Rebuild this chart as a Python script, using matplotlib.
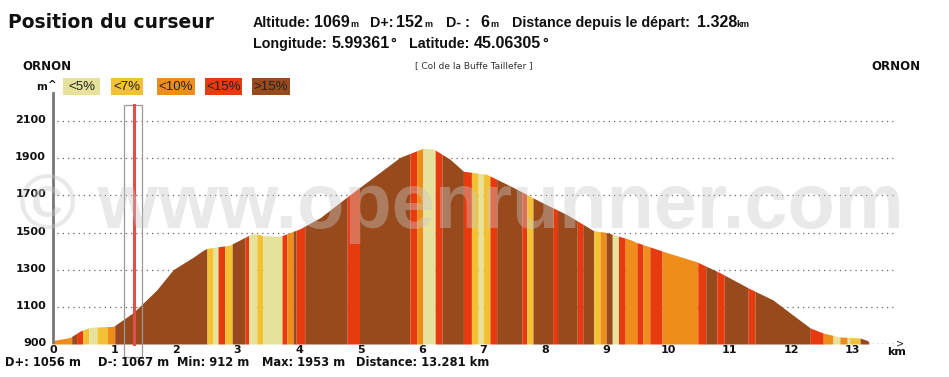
import numpy as np
import matplotlib
matplotlib.use("Agg")
import matplotlib.pyplot as plt
from matplotlib.patches import Rectangle

# ---------------- data ----------------
profile_km = [0, 0.04, 0.29, 0.46, 0.62, 1.0, 1.32, 1.7, 1.97, 2.3, 2.46, 2.52, 2.89, 3.17,
              3.27, 3.43, 3.71, 4.03, 4.36, 4.85, 5.66, 6.03, 6.2, 6.47, 6.69, 7.07, 7.5,
              7.93, 8.37, 8.8, 9.02, 9.4, 9.51, 10.0, 10.48, 10.86, 11.35, 11.72, 12.0,
              12.33, 12.54, 12.81, 13.14, 13.25, 13.281]
profile_elev = [918, 920, 935, 970, 990, 995, 1069, 1190, 1300, 1368, 1405, 1415, 1432, 1480,
                1495, 1484, 1480, 1520, 1580, 1705, 1905, 1953, 1950, 1895, 1830, 1813, 1743,
                1668, 1597, 1511, 1500, 1462, 1446, 1392, 1343, 1284, 1197, 1138, 1068,
                986, 959, 938, 932, 920, 912]

band_edges = [0, 0.32, 0.40, 0.50, 0.60, 0.73, 0.90, 1.02, 2.52, 2.62, 2.70, 2.81, 2.93, 3.14,
              3.20, 3.33, 3.43, 3.74, 3.82, 3.92, 3.97, 4.11, 4.80, 5.00, 5.82, 5.93, 6.03,
              6.23, 6.34, 6.69, 6.82, 6.93, 7.01, 7.12, 7.23, 7.64, 7.72, 7.82, 8.14, 8.22,
              8.54, 8.63, 8.81, 8.91, 9.01, 9.11, 9.21, 9.32, 9.51, 9.61, 9.72, 9.92, 10.50,
              10.63, 10.81, 10.93, 11.32, 11.43, 12.33, 12.54, 12.70, 12.81, 12.93, 12.97,
              13.14, 13.281]
# 0: <5%, 1: <7%, 2: <10%, 3: <15%, 4: >15%
band_class = [2, 4, 3, 1, 0, 1, 2, 4, 1, 0, 3, 1, 4, 3,
              0, 1, 0, 3, 2, 4, 3, 4, 3, 4, 3, 2,
              0, 3, 4, 3, 1, 0, 1, 3, 4, 3, 1, 4, 3,
              4, 3, 4, 1, 2, 4, 0, 3, 2, 3, 2, 3, 2,
              3, 4, 3, 4, 3, 4, 3, 2, 0, 2, 0,
              1, 4]

legend_labels = ["<5%", "<7%", "<10%", "<15%", ">15%"]
class_colors = ["#e6e29c", "#f2c234", "#ef8d1b", "#e83a0f", "#984a1c"]

y_ticks = [900, 1100, 1300, 1500, 1700, 1900, 2100]
x_ticks = list(range(0, 14))

cursor_km = 1.328

# ---------------- figure ----------------
W, H = 949, 377
fig = plt.figure(figsize=(W / 100, H / 100), dpi=100)
fig.patch.set_facecolor("white")

PX0, PY0 = 52, 344          # pixel of (0 km, 900 m)
SX, SY = 61.5, 0.1858       # px per km, px per m
ax = fig.add_axes([PX0 / W, (H - PY0) / H, (W - PX0) / W, PY0 / H])
ax.set_xlim(0, (W - PX0) / SX)
ax.set_ylim(900, 900 + PY0 / SY)
ax.axis("off")

def ftxt(x, y, s, **kw):
    fig.text(x / W, 1 - y / H, s, **kw)

BOLD = dict(fontfamily="DejaVu Sans", fontweight="bold", color="#111111")

# grid lines
for yv in y_ticks[1:]:
    ax.plot([0.08, 13.67], [yv, yv], color="#666666", lw=0.9,
            linestyle=(0, (1, 3.2)), zorder=1)

# profile bands
pk = np.array(profile_km)
pe = np.array(profile_elev)
assert len(band_edges) == len(band_class) + 1
for a, b, c in zip(band_edges[:-1], band_edges[1:], band_class):
    inside = pk[(pk > a) & (pk < b)]
    xs = np.concatenate([[a], inside, [b]])
    ys = np.interp(xs, pk, pe)
    ax.fill_between(xs, 900, ys, color=class_colors[c], lw=0, zorder=2,
                    antialiased=False)

# y axis line
ax.plot([0.02, 0.02], [900, 900 + (PY0 - 93) / SY], color="#777777", lw=2, zorder=3)

# x-axis end dots and arrow
ax.plot([13.33, 13.7], [900, 900], color="#444444", lw=1, linestyle=(0, (1, 2.5)), zorder=3)
ax.text(13.73, 900 + 1 / SY, ">", ha="left", va="center", fontsize=7,
        fontfamily="DejaVu Sans", color="#222222", zorder=3)

# watermark
ftxt(19, 228, "\u00a9 www.openrunner.com", fontfamily="Liberation Sans", fontweight="bold",
     fontsize=55.8, color="#c8c8c8", alpha=0.4, ha="left", va="baseline", zorder=5)

# cursor
ax.add_patch(Rectangle(((124 - PX0) / SX, 900 - 13 / SY), 18 / SX, (357 - 105) / SY,
                       fill=False, edgecolor="#999999", lw=0.9, clip_on=False, zorder=6))
ax.plot([cursor_km, cursor_km], [900, 900 + (PY0 - 105) / SY], color="#e0504a",
        lw=2.2, zorder=7, clip_on=False)

# tick labels
for yv in y_ticks:
    ftxt(46, PY0 - (yv - 900) * SY - 1, str(yv), ha="right", va="center", fontsize=8, **BOLD)
for xv in x_ticks:
    ftxt(PX0 + xv * SX + 1, 350, str(xv), ha="center", va="center", fontsize=8, **BOLD)
ftxt(897, 352, "km", ha="center", va="center", fontsize=8, **BOLD)
ftxt(36, 87, "m", ha="left", va="center", fontsize=7.5, **BOLD)
ftxt(48, 85, "^", ha="left", va="center", fontsize=7.5, **BOLD)

# legend boxes
box_x = [63, 111, 157, 205, 252]
box_w = [37, 32, 38, 37, 38]
for x0, w, lab, col in zip(box_x, box_w, legend_labels, class_colors):
    fig.patches.append(Rectangle((x0 / W, 1 - 95 / H), w / W, 17 / H, transform=fig.transFigure,
                                 facecolor=col, edgecolor="none", figure=fig))
    ftxt(x0 + w / 2, 87, lab, ha="center", va="center", fontsize=9.5,
         fontfamily="Liberation Sans", color="#222222")

# header texts
ftxt(8, 22, "Position du curseur", ha="left", va="center", fontsize=13.5, **BOLD)

def parts(y, items):
    for x, s, size in items:
        ftxt(x, y, s, ha="left", va="baseline", fontsize=size, fontfamily="Liberation Sans",
             fontweight="bold", color="#111111")

LS, VS, US = 10.3, 11.5, 6.5
parts(27, [(253, "Altitude:", LS), (314, "1069", VS), (350, "m", US),
           (370, "D+:", LS), (396, "152", VS), (424, "m", US),
           (446, "D- :", LS), (480, "6", VS), (490, "m", US),
           (512, "Distance depuis le d\u00e9part:", LS), (697, "1.328", VS),
           (736, "km", US)])
parts(48, [(253, "Longitude:", LS), (331, "5.99361", VS), (390, "\u00b0", LS),
           (409, "Latitude:", LS), (474, "45.06305", VS), (542, "\u00b0", LS)])

ftxt(22, 66, "ORNON", ha="left", va="center", fontsize=8.5, **BOLD)
ftxt(921, 66, "ORNON", ha="right", va="center", fontsize=8.5, **BOLD)
ftxt(474, 66, "[ Col de la Buffe Taillefer ]", ha="center", va="center", fontsize=6.5,
     fontfamily="DejaVu Sans", color="#333333")

# bottom summary
for x, s in [(5, "D+: 1056 m"), (98, "D-: 1067 m"), (177, "Min: 912 m"),
             (262, "Max: 1953 m"), (356, "Distance: 13.281 km")]:
    ftxt(x, 363, s, ha="left", va="center", fontsize=8.3, **BOLD)

fig.savefig("out.png", dpi=100)
